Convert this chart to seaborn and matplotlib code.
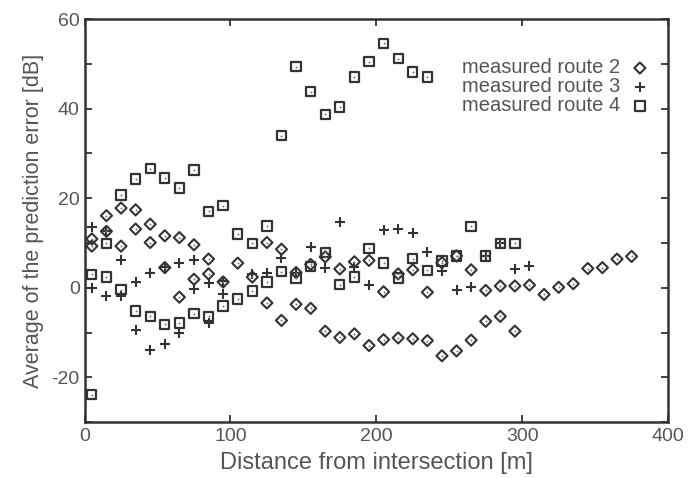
import numpy as np
import pandas as pd
import matplotlib
matplotlib.use('Agg')
import matplotlib.pyplot as plt
import seaborn as sns
from matplotlib.ticker import MultipleLocator, FixedLocator

# measured route 2 (diamonds) - two points at most x positions
r2_x = [5, 5, 15, 15, 25, 25, 35, 35, 45, 45, 55, 55, 65, 65, 75, 75, 85, 85,
        95, 105, 115, 125, 125, 135, 135, 145, 145, 155, 155, 165, 165,
        175, 175, 185, 185, 195, 195, 205, 205, 215, 215, 225, 225, 235, 235,
        245, 245, 255, 255, 265, 265, 275, 275, 285, 285, 295, 295,
        305, 315, 325, 335, 345, 355, 365, 375]
r2_y = [10.9, 9.3, 16.1, 12.6, 17.8, 9.3, 17.4, 13.1, 14.2, 10.1, 11.6, 4.5,
        11.2, -2.1, 9.6, 1.9, 6.4, 3.1,
        1.3, 5.5, 2.4, 10.1, -3.4, 8.6, -7.3, 3.4, -3.7, 5.2, -4.6, 6.9, -9.7,
        4.2, -11.1, 5.8, -10.3, 6.1, -12.9, -0.9, -11.6, 3.1, -11.2, 4.0, -11.4,
        -1.0, -11.8, 5.6, -15.2, 7.1, -14.1, 4.0, -11.7, -0.6, -7.5, 0.4, -6.4,
        0.4, -9.7, 0.6, -1.5, 0.1, 0.9, 4.3, 4.5, 6.4, 7.0]

# measured route 3 (plus)
r3_x = [5, 5, 15, 15, 25, 25, 35, 35, 45, 45, 55, 55, 65, 65, 75, 75, 85, 85,
        95, 95, 115, 125, 135, 145, 155, 165, 175, 185, 195, 205, 215, 225,
        235, 245, 255, 265, 275, 285, 295, 305]
r3_y = [13.5, -0.1, 12.6, -1.9, 6.1, -1.9, 1.3, -9.5, 3.4, -14.0, 4.7, -12.5,
        5.6, -10.2, 6.3, -0.3, 1.0, -7.9,
        1.5, -1.5, 3.0, 3.4, 6.7, 3.4, 9.0, 4.5, 14.6, 4.6, 0.7, 12.9, 13.2, 12.2,
        7.9, 3.7, -0.4, 0.1, 7.1, 9.9, 4.3, 4.9]

# measured route 4 (squares)
r4_x = [5, 5, 15, 15, 25, 25, 35, 35, 45, 45, 55, 55, 65, 65, 75, 75, 85, 85,
        95, 95, 105, 105, 115, 115, 125, 125, 135, 135, 145, 145, 155, 155,
        165, 165, 175, 175, 185, 185, 195, 195, 205, 205, 215, 215, 225, 225,
        235, 235, 245, 255, 265, 275, 285, 295]
r4_y = [3.0, -23.9, 9.9, 2.4, 20.7, -0.4, 24.3, -5.2, 26.6, -6.4, 24.5, -8.2,
        22.3, -7.9, 26.3, -5.8, 17.1, -6.4, 18.3, -4.1, 12.0, -2.5, 9.9, -0.7,
        13.8, 1.3, 34.0, 3.6, 49.4, 2.2, 43.8, 4.8, 38.7, 7.9, 40.4, 0.7,
        47.1, 2.4, 50.5, 8.8, 54.6, 5.5, 51.2, 2.2, 48.2, 6.5, 47.1, 3.9,
        6.0, 7.1, 13.7, 7.1, 9.9, 9.9]

sns.set_style('ticks')
plt.rcParams['font.family'] = ['Liberation Sans', 'DejaVu Sans']
plt.rcParams['axes.unicode_minus'] = False

ink = '#333333'
txt = '#555555'

fig = plt.figure(figsize=(6.93, 4.78), dpi=100)
ax = fig.add_axes([0.122, 0.117, 0.842, 0.843])

sns.scatterplot(x=r2_x, y=r2_y, ax=ax, marker='D', s=32, facecolor='none',
                edgecolor=ink, linewidth=1.5, label='measured route 2')
sns.scatterplot(x=r3_x, y=r3_y, ax=ax, marker='+', s=60, color=ink,
                linewidth=1.5, label='measured route 3')
sns.scatterplot(x=r4_x, y=r4_y, ax=ax, marker='s', s=45, facecolor='none',
                edgecolor=ink, linewidth=1.6, label='measured route 4')
# small centre dots of the printed point symbols
sns.scatterplot(x=r2_x + r4_x, y=r2_y + r4_y, ax=ax, marker='o', s=2,
                color='#777777', linewidth=0, legend=False)

ax.set_xlim(0, 400)
ax.set_ylim(-30, 60)
ax.xaxis.set_major_locator(MultipleLocator(100))
ax.yaxis.set_major_locator(FixedLocator([-20, 0, 20, 40, 60]))
ax.yaxis.set_minor_locator(FixedLocator([-30, -10, 10, 30, 50]))
ax.tick_params(which='both', direction='in', top=True, right=True,
               length=5, width=1.3, color=ink, labelsize=14, labelcolor=txt)
ax.tick_params(axis='x', pad=4)
for sp in ax.spines.values():
    sp.set_color(ink)
    sp.set_linewidth(1.8)

ax.set_xlabel('Distance from intersection [m]', fontsize=17, color=txt,
              labelpad=5)
ax.set_ylabel('Average of the prediction error [dB]', fontsize=15.5,
              color=txt, labelpad=5)

leg = ax.legend(loc='center right', frameon=False, markerfirst=False,
                fontsize=14.5, handletextpad=0.5, labelspacing=0.0,
                handlelength=1.0, borderpad=0, borderaxespad=0,
                bbox_to_anchor=(0.969, 0.832), labelcolor=txt)

fig.savefig('out.png', dpi=100)
